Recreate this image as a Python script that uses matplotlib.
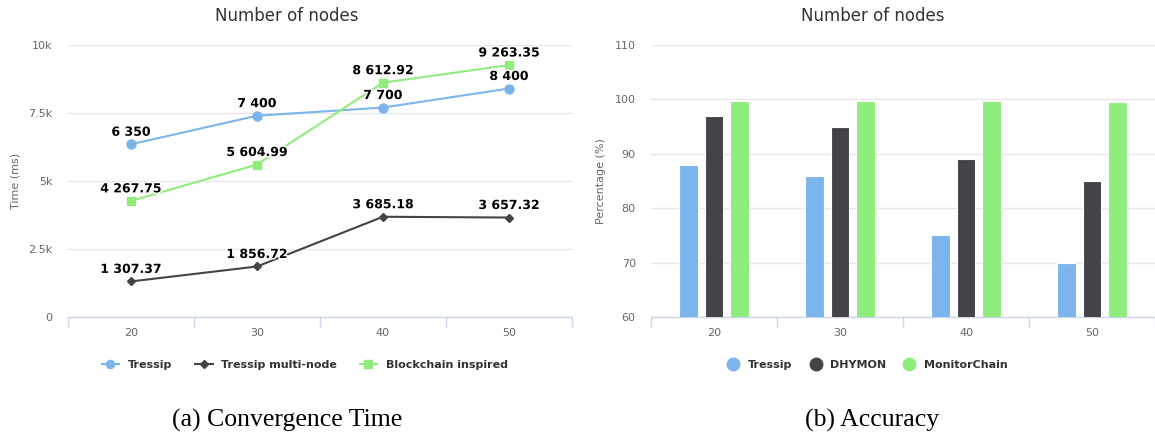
import numpy as np
import matplotlib
matplotlib.use("Agg")
import matplotlib.pyplot as plt
from matplotlib.lines import Line2D
import matplotlib.patheffects as pe

# ============================================
# DATOS
# ============================================
nodes = ["20", "30", "40", "50"]

conv_tressip = [6350, 7400, 7700, 8400]
conv_multi = [1307.37, 1856.72, 3685.18, 3657.32]
conv_blockchain = [4267.75, 5604.99, 8612.92, 9263.35]
conv_labels = ["Tressip", "Tressip multi-node", "Blockchain inspired"]

acc_tressip = [88, 86, 75, 70]
acc_dhymon = [97, 95, 89, 85]
acc_monitorchain = [99.7, 99.7, 99.7, 99.5]
acc_labels = ["Tressip", "DHYMON", "MonitorChain"]

C_BLUE = "#7cb5ec"
C_DARK = "#434348"
C_GREEN = "#90ed7d"
C_GRID = "#e6e6e6"
C_AXIS = "#ccd6eb"
C_TICK = "#666666"

plt.rcParams["font.family"] = ["DejaVu Sans"]

fig = plt.figure(figsize=(11.55, 4.36), dpi=100)
W, H = 1155, 436


def make_axes(x0, x1, y0, y1):
    return fig.add_axes([x0 / W, 1 - y1 / H, (x1 - x0) / W, (y1 - y0) / H])


def style_axes(ax):
    ax.set_facecolor("white")
    for s in ["top", "right", "left"]:
        ax.spines[s].set_visible(False)
    ax.spines["bottom"].set_color(C_AXIS)
    ax.spines["bottom"].set_linewidth(1)
    ax.grid(axis="y", color=C_GRID, linewidth=1)
    ax.set_axisbelow(True)
    ax.tick_params(axis="y", length=0, pad=11, labelsize=8, labelcolor=C_TICK)
    ax.tick_params(axis="x", which="major", length=0, pad=8, labelsize=8, labelcolor=C_TICK)
    ax.set_xticks(np.arange(-0.5, len(nodes), 1.0), minor=True)
    ax.tick_params(axis="x", which="minor", length=7, color=C_AXIS, width=1)
    ax.set_xlim(-0.5, len(nodes) - 0.5)
    ax.set_xticks(range(len(nodes)))
    ax.set_xticklabels(nodes)


# ============================================
# (a) CONVERGENCE TIME
# ============================================
ax1 = make_axes(68, 572, 45, 317)
style_axes(ax1)
x = np.arange(len(nodes))

series = [
    (conv_tressip, C_BLUE, "o", 6.5),
    (conv_multi, C_DARK, "D", 4.5),
    (conv_blockchain, C_GREEN, "s", 6),
]
for vals, col, mk, ms in series:
    ax1.plot(x, vals, color=col, linewidth=1.5, marker=mk, markersize=ms, zorder=3)
    for xi, v in zip(x, vals):
        if float(v).is_integer():
            txt = f"{int(v):,}".replace(",", " ")
        else:
            txt = f"{v:,.2f}".replace(",", " ")
        ax1.annotate(txt, (xi, v), xytext=(0, 4), textcoords="offset points",
                     ha="center", va="bottom", fontsize=9, fontweight="bold",
                     color="#000000", zorder=4,
                     path_effects=[pe.withStroke(linewidth=2, foreground="white")])

ax1.set_ylim(0, 10000)
ax1.set_yticks([0, 2500, 5000, 7500, 10000])
ax1.set_yticklabels(["0", "2.5k", "5k", "7.5k", "10k"])
ax1.set_ylabel("Time (ms)", fontsize=8, color=C_TICK, labelpad=6)

handles1 = [Line2D([0], [0], color=c, marker=m, markersize=s * 0.9, linewidth=1.5)
            for _, c, m, s in series]
leg1 = ax1.legend(handles1, conv_labels, loc="upper center", bbox_to_anchor=(0.47, -0.12),
                  ncol=3, frameon=False, handlelength=1.6, columnspacing=2.0,
                  prop={"size": 8, "weight": "bold"})
for t in leg1.get_texts():
    t.set_color("#333333")

# ============================================
# (b) ACCURACY
# ============================================
ax2 = make_axes(651, 1155, 45, 317)
style_axes(ax2)
bw = 0.15
off = 0.2
bars = [
    (acc_tressip, C_BLUE, -off),
    (acc_dhymon, C_DARK, 0),
    (acc_monitorchain, C_GREEN, off),
]
for vals, col, dx in bars:
    ax2.bar(x + dx, vals, width=bw, color=col, edgecolor="white", linewidth=0.8,
            zorder=3)

ax2.set_ylim(60, 110)
ax2.set_yticks([60, 70, 80, 90, 100, 110])
ax2.set_ylabel("Percentage (%)", fontsize=8, color=C_TICK, labelpad=6)

handles2 = [Line2D([0], [0], color=c, marker="o", markersize=9, linestyle="none")
            for _, c, _ in bars]
leg2 = ax2.legend(handles2, acc_labels, loc="upper center", bbox_to_anchor=(0.43, -0.12),
                  ncol=3, frameon=False, handlelength=1.0, columnspacing=1.6,
                  prop={"size": 8, "weight": "bold"})
for t in leg2.get_texts():
    t.set_color("#333333")

# ============================================
# TITULOS Y CAPTIONS
# ============================================
for cx in (287, 873):
    fig.text(cx / W, 1 - 16 / H, "Number of nodes", ha="center", va="center",
             fontsize=12, color="#333333")

fig.text(287 / W, 1 - 420 / H, "(a) Convergence Time", ha="center", va="center",
         fontsize=18.5, family="Liberation Serif", color="black")
fig.text(872 / W, 1 - 420 / H, "(b) Accuracy", ha="center", va="center",
         fontsize=18.5, family="Liberation Serif", color="black")

fig.savefig("out.png", dpi=100, facecolor="white")
plt.close(fig)
